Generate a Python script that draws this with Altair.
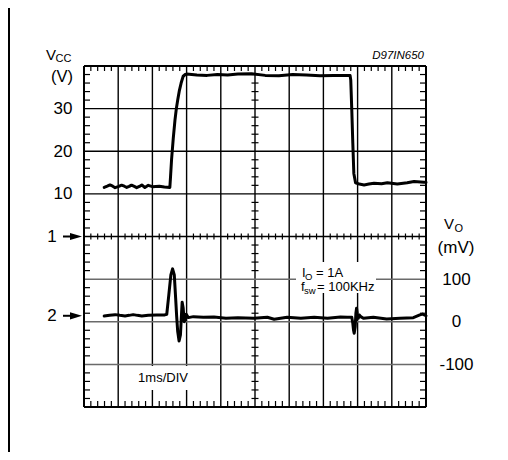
import altair as alt
import pandas as pd

# ---------------- data (time in ms, 1 ms/DIV) ----------------
vcc_t = [0.59, 0.68, 0.76, 0.84, 0.91, 1.00, 1.10, 1.18, 1.25, 1.32, 1.39, 1.47, 1.54, 1.62, 1.69,
         1.78, 1.88, 2.00, 2.20, 2.35, 2.51, 2.53, 2.56, 2.61, 2.66, 2.70, 2.74, 2.79, 2.84, 2.90,
         2.96, 3.00, 3.30, 3.60, 3.90, 4.20, 4.50, 4.90, 5.30, 5.70, 6.10, 6.50, 6.90, 7.30, 7.60,
         7.78, 7.80, 7.83, 7.86, 7.89, 7.94, 8.05, 8.19, 8.33, 8.48, 8.70, 8.87, 9.16, 9.45, 9.65,
         9.94, 10.0]
vcc_v = [11.5, 11.8, 12.1, 11.8, 11.45, 11.7, 12.05, 11.8, 11.5, 11.75, 12.05, 11.75, 11.45, 11.75, 12.1,
         11.5, 12.0, 11.7, 11.8, 11.6, 11.5, 14.0, 18.0, 23.0, 27.3, 30.0, 32.0, 34.3, 36.0, 37.6,
         38.0, 38.1, 37.9, 37.8, 38.0, 37.9, 38.1, 38.2, 37.8, 37.7, 38.0, 37.9, 37.7, 37.8, 37.8,
         37.8, 36.7, 29.7, 21.9, 14.8, 12.6, 12.3, 12.1, 12.3, 12.5, 12.4, 12.6, 12.3, 12.6, 12.9,
         12.7, 12.7]

vo_t = [0.59, 0.75, 0.91, 1.05, 1.20, 1.32, 1.44, 1.56, 1.69, 1.88, 2.12, 2.36, 2.42, 2.48, 2.54,
        2.59, 2.64, 2.68, 2.71, 2.74, 2.78, 2.82, 2.85, 2.87, 2.90, 2.93, 2.96, 2.99, 3.05, 3.20,
        3.49, 3.80, 4.15, 4.50, 4.97, 5.36, 5.56, 5.94, 6.34, 6.73, 7.12, 7.50, 7.70, 7.83, 7.86,
        7.88, 7.90, 7.93, 7.95, 7.97, 7.99, 8.02, 8.05, 8.09, 8.17, 8.46, 8.85, 9.24, 9.63, 9.82,
        9.90, 10.0]
vo_mv = [13.6, 15.5, 16.7, 15.0, 13.6, 15.0, 16.7, 15.0, 13.6, 15.2, 16.0, 16.0, 17.6, 63, 110,
         124, 110, 55, 12, -23, -45, -31, 16, 46, 32, 0, 4, 17.6, 9.7, 12,
         10.6, 11, 8, 9.6, 8, 10.6, 6, 10.6, 8, 10.6, 8, 11, 10.6, 10.6, -3.5,
         -19, -27, -11.5, 20, 31.7, 20, 8, 16, 12, 8, 10.6, 6.6, 8, 9.6, 16,
         18, 14]

vcc_ticks = [10, 20, 30]          # V, 10 V/div, upper half
vo_ticks = [100, 0, -100]         # mV, 100 mV/div, lower half
vo_marker = 14                    # mV level pointed by arrow "2"

# ---------------- layout ----------------
FONT = "Liberation Sans"
W, H = 342, 341
sx = alt.Scale(domain=[0, 10], nice=False, zero=False)
sy = alt.Scale(domain=[-4, 4], nice=False, zero=False)

def X(f):
    return alt.X(f, scale=sx, axis=None)

def Y(f, axis=None):
    return alt.Y(f, scale=sy, axis=axis)

df_vcc = pd.DataFrame({"t": vcc_t, "v": vcc_v})
df_vcc["y"] = df_vcc["v"] / 10.0
df_vo = pd.DataFrame({"t": vo_t, "mv": vo_mv})
df_vo["y"] = df_vo["mv"] / 100.0 - 2.0

# grid
vg = pd.DataFrame({"x": list(range(1, 10)), "a": -4, "b": 4})
vb = pd.DataFrame({"x": [0, 10], "a": -4, "b": 4})
hg_black = pd.DataFrame({"y": [1, 2, 3, 0], "a": 0, "b": 10})
hg_gray = pd.DataFrame({"y": [-1, -2, -3], "a": 0, "b": 10})
hb = pd.DataFrame({"y": [-4, 4], "a": 0, "b": 10})

v_rules = alt.Chart(vg).mark_rule(color="black", strokeWidth=1.4).encode(x=X("x:Q"), y=Y("a:Q"), y2="b:Q")
v_border = alt.Chart(vb).mark_rule(color="black", strokeWidth=2).encode(x=X("x:Q"), y=Y("a:Q"), y2="b:Q")
h_black = alt.Chart(hg_black).mark_rule(color="black", strokeWidth=1.4).encode(y=Y("y:Q"), x=X("a:Q"), x2="b:Q")
h_gray = alt.Chart(hg_gray).mark_rule(color="#6a6a6a", strokeWidth=1.5).encode(y=Y("y:Q"), x=X("a:Q"), x2="b:Q")
h_border = alt.Chart(hb).mark_rule(color="black", strokeWidth=2).encode(y=Y("y:Q"), x=X("a:Q"), x2="b:Q")

# minor graticule ticks (5 per division)
mx = [i / 5 for i in range(1, 50) if i % 5]
my = [-4 + i / 5 for i in range(1, 40) if i % 5]
dmx = pd.DataFrame({"x": mx})
dmy = pd.DataFrame({"y": my})

def xticks(yv, off, size):
    return alt.Chart(dmx).mark_tick(orient="vertical", size=size, thickness=1.2, color="black",
                                    yOffset=off, opacity=1).encode(x=X("x:Q"), y=alt.Y(datum=yv, scale=sy, axis=None))

def yticks(xv, off, size):
    return alt.Chart(dmy).mark_tick(orient="horizontal", size=size, thickness=1.2, color="black",
                                    xOffset=off, opacity=1).encode(y=Y("y:Q"), x=alt.X(datum=xv, scale=sx, axis=None))

ticks = [xticks(4, 2.5, 5), xticks(-4, -3, 6), xticks(0, 0, 6),
         yticks(0, 3, 6), yticks(10, -3, 6), yticks(5, 0, 7)]

# solid rectangles given in pixels (white label boxes, outer frame stroke)
def box(x0, x1, y0, y1, color="white"):
    return alt.Chart(pd.DataFrame({"k": [0]})).mark_rect(color=color, opacity=1).encode(
        x=alt.value(x0), x2=alt.value(x1), y=alt.value(y0), y2=alt.value(y1))

def txt(s, x, y, size=13, align="left", baseline="alphabetic", style="normal"):
    return alt.Chart(pd.DataFrame({"s": [s]})).mark_text(
        align=align, baseline=baseline, fontSize=size, font=FONT, fontStyle=style, color="black"
    ).encode(x=alt.value(x), y=alt.value(y), text="s:N")

def txt_d(s, x, yv, size=17, align="center"):
    return alt.Chart(pd.DataFrame({"s": [s]})).mark_text(
        align=align, baseline="middle", fontSize=size, font=FONT, color="black"
    ).encode(x=alt.value(x), y=alt.Y(datum=yv, scale=sy, axis=None), text="s:N")

ARROW = "M-1,-0.6L1,0L-1,0.6Z"

def arrow(yv):
    shaft = alt.Chart(pd.DataFrame({"k": [0]})).mark_rule(color="black", strokeWidth=2).encode(
        x=alt.value(-21), x2=alt.value(-10), y=alt.Y(datum=yv, scale=sy, axis=None),
        y2=alt.Y2(datum=yv))
    head = alt.Chart(pd.DataFrame({"k": [0]})).mark_point(
        shape=ARROW, filled=True, size=144, color="black", opacity=1, strokeWidth=0).encode(
        x=alt.value(-8), y=alt.Y(datum=yv, scale=sy, axis=None))
    return [shaft, head]

labels = [
    box(51, 108, 300, 324),
    box(212, 292, 196, 227),
    txt("1ms/DIV", 79, 312, 13, "center", "middle"),
    txt("I", 218, 210.5, 13),
    txt("O", 221, 213.5, 9.5),
    txt("= 1A", 232, 210.5, 13),
    txt("f", 217, 224.5, 13),
    txt("sw", 220, 227.5, 9.5),
    txt("= 100KHz", 233, 224.5, 13),
    txt("V", -38, -6, 15),
    txt("CC", -28.5, -4.5, 11),
    txt("(V)", -11, 10.5, 16.5, "right", "middle"),
    txt("V", 360, 163, 15),
    txt("O", 370.5, 165.5, 11),
    txt("(mV)", 372, 181.5, 17, "center", "middle"),
    txt("D97IN650", 340, -10, 11.5, "right", "middle", "italic"),
    txt_d("1", -32, 0),
    txt_d("2", -32, vo_marker / 100.0 - 2.0),
]
labels += arrow(0) + arrow(vo_marker / 100.0 - 2.0)

# outer partial frame (left stroke)
frame = [box(-76, -74, -58, 386, "black")]

left_axis = alt.Axis(values=[v / 10.0 for v in vcc_ticks], labelExpr="'' + round(datum.value*10)",
                     ticks=False, domain=False, grid=False, labelFont=FONT, labelFontSize=17,
                     labelColor="black", labelPadding=12, title=None, labelAlign="right",
                     labelBaseline="middle")
right_axis = alt.Axis(orient="right", values=[v / 100.0 - 2.0 for v in vo_ticks],
                      labelExpr="'' + round((datum.value+2)*100)",
                      ticks=False, domain=False, grid=False, labelFont=FONT, labelFontSize=17,
                      labelColor="black", labelPadding=30, title=None, labelAlign="center",
                      labelBaseline="middle")

vcc_line = alt.Chart(df_vcc).mark_line(color="black", strokeWidth=3, strokeJoin="round",
                                       strokeCap="round").encode(
    x=X("t:Q"), y=Y("y:Q", left_axis), order="t:Q")
vo_line = alt.Chart(df_vo).mark_line(color="black", strokeWidth=3, strokeJoin="round",
                                     strokeCap="round").encode(
    x=X("t:Q"), y=Y("y:Q", right_axis), order="t:Q")

chart = alt.layer(
    v_rules, h_black, h_gray, *ticks, v_border, h_border, *labels, *frame, vcc_line, vo_line
).resolve_axis(y="independent").properties(
    width=W, height=H,
    autosize=alt.AutoSizeParams(type="none"),
    padding={"left": 76, "top": 58, "right": 74, "bottom": 45},
).configure_view(stroke=None).configure(background="white")

chart.save("out.html", embed_options={"renderer": "svg", "actions": False})
